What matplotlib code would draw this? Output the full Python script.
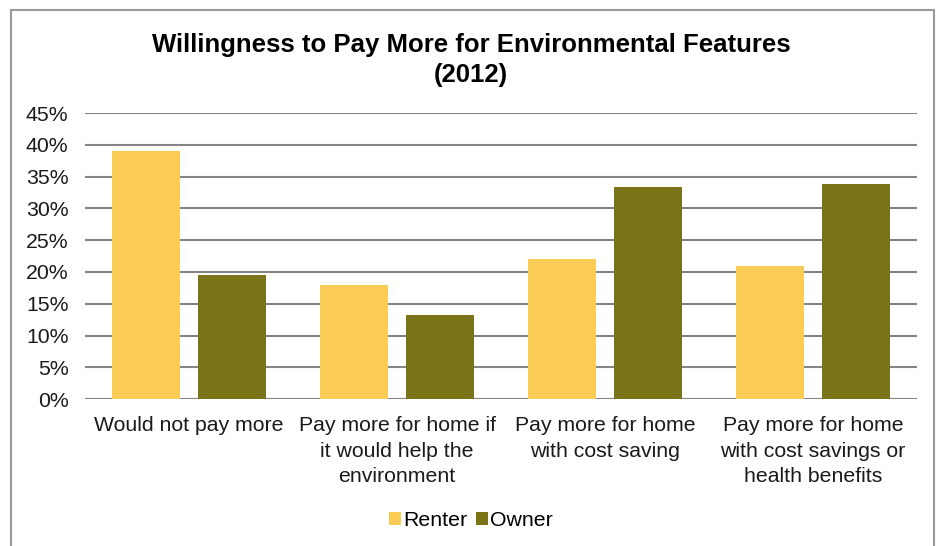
import numpy as np
import matplotlib
matplotlib.use("Agg")
import matplotlib.pyplot as plt
from matplotlib.patches import Rectangle
from matplotlib.ticker import PercentFormatter

plt.rcParams['font.family'] = ['Liberation Sans', 'DejaVu Sans']

# data
categories = ["Would not pay more",
              "Pay more for home if\nit would help the\nenvironment",
              "Pay more for home\nwith cost saving",
              "Pay more for home\nwith cost savings or\nhealth benefits"]
renter = [39.0, 18.0, 22.0, 21.0]
owner = [19.5, 13.3, 33.3, 33.8]
yticks = [0, 5, 10, 15, 20, 25, 30, 35, 40, 45]

renter_color = "#FACC55"
owner_color = "#7A7416"

fig = plt.figure(figsize=(9.42, 5.46), dpi=100)
ax = fig.add_axes([0.0905, 0.269, 0.883, 0.524])

# outer chart frame
fig.patches.append(Rectangle((11 / 942, -0.05), 923 / 942, 1.05 - 10 / 546,
                             transform=fig.transFigure, fill=False,
                             edgecolor="#9a9a9a", linewidth=1.5))

x = np.arange(len(categories))
w = 0.327
ax.bar(x - 0.207, renter, w, color=renter_color, label="Renter", zorder=3)
ax.bar(x + 0.207, owner, w, color=owner_color, label="Owner", zorder=3)

ax.set_xlim(-0.5, len(categories) - 0.5)
ax.set_ylim(0, 45)
ax.set_yticks(yticks)
ax.yaxis.set_major_formatter(PercentFormatter(decimals=0))
ax.grid(axis="y", color="#858585", linewidth=1.5, zorder=0)
for s in ax.spines.values():
    s.set_visible(False)
ax.tick_params(axis="both", length=0, labelsize=15.3, colors="#1a1a1a")
ax.tick_params(axis="y", pad=12)
ax.tick_params(axis="x", pad=12)
ax.set_xticks(x)
ax.set_xticklabels(categories, linespacing=1.45)

fig.text(0.5, 0.89, "Willingness to Pay More for Environmental Features\n(2012)",
         ha="center", va="center", fontsize=18.5, fontweight="bold", linespacing=1.35)

fig.legend(loc="center", bbox_to_anchor=(0.5, 0.047), ncol=2, frameon=False,
           fontsize=15.3, handlelength=0.55, handleheight=0.55, handletextpad=0.1,
           columnspacing=0.45)

fig.savefig("out.png", dpi=100)
